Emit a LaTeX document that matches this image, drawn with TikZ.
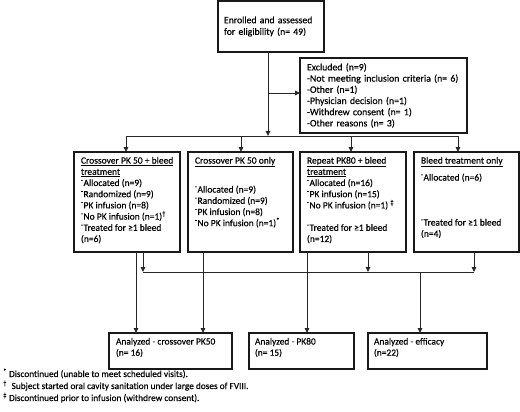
\documentclass[tikz,border=0pt]{standalone}
\usepackage{fontspec}
\setmainfont{Carlito}[FakeBold=0.4]
\usetikzlibrary{arrows.meta}
\newcommand{\cbox}[3]{\parbox[c][#2][t]{#1}{\raggedright #3}}
\newcommand{\dsh}{\textsuperscript{-}}
\tikzset{
  box/.style={draw=black!90, line width=1.15pt, anchor=north west, inner xsep=6pt, inner ysep=5pt, outer sep=0pt, font=\fontsize{9.5}{11.2}\selectfont},
  conn/.style={draw=black!85, line width=0.85pt},
  arr/.style={conn, -{Triangle[length=5pt,width=4.6pt]}},
  fn/.style={anchor=base west, inner sep=0pt, font=\fontsize{9.3}{11.2}\selectfont},
}
\begin{document}
\begin{tikzpicture}[x=1pt,y=-1pt]
\useasboundingbox (0,0) rectangle (520,412);
% top
\node[box, text width=94pt, align=left, minimum height=51pt, font=\fontsize{9.7}{11.6}\selectfont] (enr) at (218,1)
  {Enrolled and assessed\\for eligibility (n= 49)};
\node[box, inner xsep=7pt, text width=153pt, align=left, minimum height=75pt, font=\fontsize{9.8}{11.2}\selectfont] (exc) at (300,58)
  {Excluded (n=9)\\\mbox{-Not meeting inclusion criteria (n= 6)}\\-Other (n=1)\\-Physician decision (n=1)\\-Withdrew consent (n= 1)\\-Other reasons (n= 3)};
% row of groups
\node[box, inner xsep=7pt] (b1) at (74,152) {\cbox{92pt}{90pt}{%
  \underline{Crossover PK 50 + bleed}\\ \underline{treatment}\\ \dsh Allocated (n=9)\\ \dsh Randomized (n=9)\\ \dsh PK infusion (n=8)\\ \dsh No PK infusion (n=1)\textsuperscript{†}\\ \dsh Treated for ≥1 bleed\\ (n=6)}};
\node[box, inner xsep=7pt] (b2) at (188,152) {\cbox{91pt}{90pt}{%
  \underline{Crossover PK 50 only}\\[17.8pt] \dsh Allocated (n=9)\\ \dsh Randomized (n=9)\\ \dsh PK infusion (n=8)\\ \dsh No PK infusion (n=1)\textsuperscript{*}}};
\node[box, inner xsep=7pt] (b3) at (300,152) {\cbox{92pt}{90pt}{%
  \underline{Repeat PK80 + bleed}\\ \underline{treatment}\\ \dsh Allocated (n=16)\\ \dsh PK infusion (n=15)\\ \dsh No PK infusion (n=1) \textsuperscript{‡}\\[11.2pt] \dsh Treated for ≥1 bleed\\ (n=12)}};
\node[box, inner xsep=7pt] (b4) at (414,152) {\cbox{91pt}{90pt}{%
  \underline{Bleed treatment only}\\[5.8pt] \dsh Allocated (n=6)\\[33.8pt] \dsh Treated for ≥1 bleed\\ (n=4)}};
% analyzed
\node[box, inner xsep=7pt, font=\fontsize{9.4}{11.2}\selectfont] (an1) at (109,333) {\cbox{109pt}{26pt}{Analyzed - crossover PK50\\ (n= 16)}};
\node[box, font=\fontsize{9.4}{11.2}\selectfont] (an2) at (249,333) {\cbox{93pt}{26pt}{Analyzed - PK80\\ (n= 15)}};
\node[box, font=\fontsize{9.4}{11.2}\selectfont] (an3) at (368,333) {\cbox{107pt}{26pt}{Analyzed - efficacy\\ (n=22)}};
% top connectors
\coordinate (t0) at (268,136);
\coordinate (tj) at (268,93);
\draw[arr] (enr.south -| t0) -- (t0);
\draw[arr] (tj) -- (tj -| exc.west);
\coordinate (hL) at (126,136);
\coordinate (h2) at (241,136);
\coordinate (h3) at (351,136);
\coordinate (hR) at (458,136);
\draw[conn] (hL) -- (hR);
\draw[arr] (hL) -- (hL |- b1.north);
\draw[arr] (h2) -- (h2 |- b2.north);
\draw[arr] (h3) -- (h3 |- b3.north);
\draw[arr] (hR) -- (hR |- b4.north);
% lower connectors
\coordinate (d1) at (136,252);
\coordinate (d2) at (203,252);
\coordinate (d3) at (307,252);
\draw[arr] (d1) -- (d1 |- an1.north);
\draw[arr] (d2) -- (d2 |- an1.north);
\draw[arr] (d3) -- (d3 |- an2.north);
\coordinate (gL) at (143,272);
\coordinate (g3) at (368,272);
\coordinate (gR) at (474,272);
\coordinate (g0) at (420,272);
\draw[conn] (gL) -- (gR);
\draw[arr] (b1.south -| gL) -- (gL);
\draw[arr] (b3.south -| g3) -- (g3);
\draw[arr] (b4.south -| gR) -- (gR);
\draw[arr] (g0) -- (g0 |- an3.north);
% footnotes
\node[fn] (f1) at (3,377) {\textsuperscript{*} Discontinued (unable to meet scheduled visits).};
\node[fn] (f2) at (3,389) {\textsuperscript{†}\enspace Subject started oral cavity sanitation under large doses of FVIII.};
\node[fn] (f3) at (3,401) {\textsuperscript{‡} Discontinued prior to infusion (withdrew consent).};
\end{tikzpicture}
\end{document}
